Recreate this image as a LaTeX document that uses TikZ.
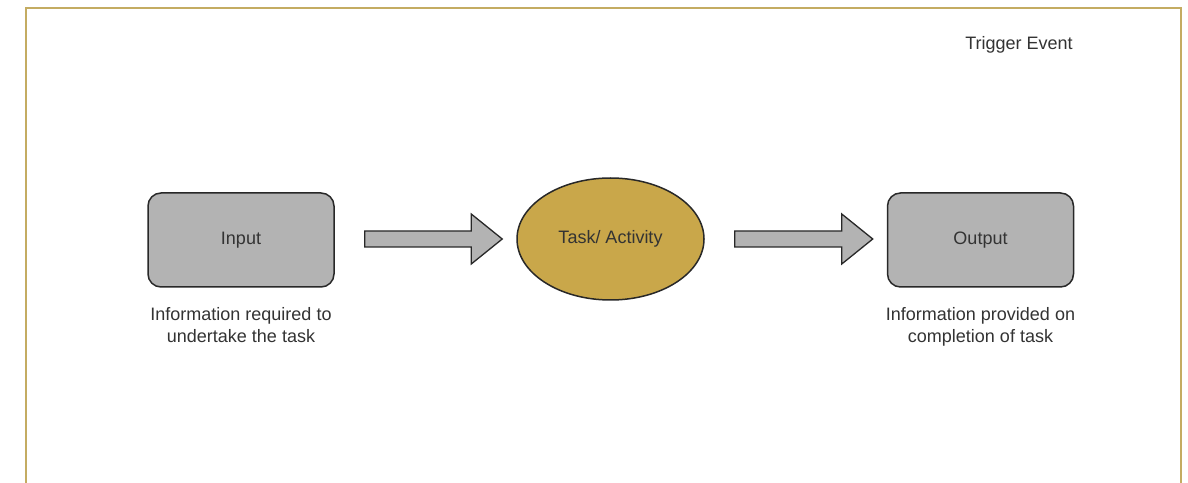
\documentclass[tikz,border=0pt]{standalone}
\usepackage{fontspec}
\setmainfont{Liberation Sans}
\usetikzlibrary{shapes.geometric,calc}
\definecolor{framegold}{RGB}{196,172,98}
\definecolor{boxgray}{RGB}{179,179,179}
\definecolor{taskgold}{RGB}{201,167,74}
\definecolor{strokedark}{RGB}{40,40,40}
\definecolor{textdark}{RGB}{51,51,51}
\tikzset{
  x=1pt, y=1pt,
  every node/.style={font=\fontsize{18}{22}\selectfont, text=textdark},
  stagebox/.style={draw=strokedark, line width=1.5pt, fill=boxgray,
    rounded corners=13pt, minimum width=186pt, minimum height=94pt, inner sep=0pt},
  taskoval/.style={ellipse, draw=strokedark, line width=1.5pt, fill=taskgold,
    minimum width=187pt, minimum height=122pt, inner sep=0pt},
  blockarrow/.style={draw=strokedark, line width=1.3pt, fill=boxgray, line join=miter},
  caption/.style={align=center, anchor=north}
}
\begin{document}
\begin{tikzpicture}
  \useasboundingbox (0,0) rectangle (1188,482);
  \fill[white] (0,0) rectangle (1188,482);
  % outer frame, open at the bottom
  \draw[framegold, line width=2pt] (26,-5) -- (26,474) -- (1181,474) -- (1181,-5);

  \node (trigger) at (1019,437) {Trigger Event};

  \node[stagebox] (input) at (241,242) {Input};
  \node[taskoval] (task) at (610.5,243) {Task/ Activity};
  \node[stagebox] (output) at (980.5,242) {Output};

  \node[caption] (incap) at ([yshift=-16pt]input.south)
    {Information required to\\undertake the task};
  \node[caption] (outcap) at ([yshift=-16pt]output.south)
    {Information provided on\\completion of task};

  % block arrows between the stages
  \coordinate (a1s) at ([xshift=30pt]input.east |- task.center);
  \coordinate (a1t) at ([xshift=-14pt]task.west);
  \coordinate (a2s) at ([xshift=30pt]task.east);
  \coordinate (a2t) at ([xshift=-14pt]output.west |- task.center);
  \foreach \s/\t in {a1s/a1t, a2s/a2t}{
    \draw[blockarrow] let \p1=(\s), \p2=(\t) in
      (\x1,\y1+8pt) -- (\x2-31pt,\y1+8pt) -- (\x2-31pt,\y1+25pt) -- (\x2,\y1)
      -- (\x2-31pt,\y1-25pt) -- (\x2-31pt,\y1-8pt) -- (\x1,\y1-8pt) -- cycle;
  }
\end{tikzpicture}
\end{document}
